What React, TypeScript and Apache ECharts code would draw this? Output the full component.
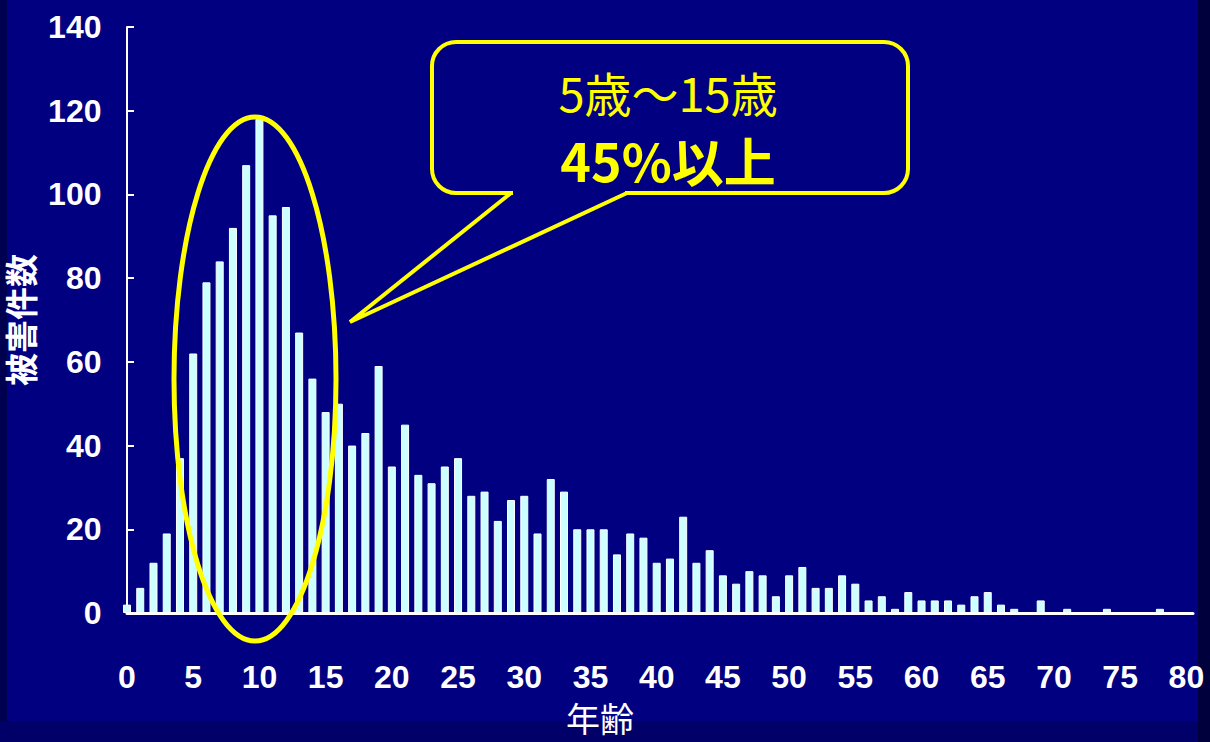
import React, { useEffect, useRef } from "react";
import * as echarts from "echarts";

const ages = [
  0, 1, 2, 3, 4, 5, 6, 7, 8, 9, 10, 11, 12, 13, 14, 15, 16, 17, 18, 19,
  20, 21, 22, 23, 24, 25, 26, 27, 28, 29, 30, 31, 32, 33, 34, 35, 36, 37, 38, 39,
  40, 41, 42, 43, 44, 45, 46, 47, 48, 49, 50, 51, 52, 53, 54, 55, 56, 57, 58, 59,
  60, 61, 62, 63, 64, 65, 66, 67, 68, 69, 70, 71, 72, 73, 74, 75, 76, 77, 78, 79,
];
const counts = [
  2, 6, 12, 19, 37, 62, 79, 84, 92, 107, 118, 95, 97, 67, 56, 48, 50, 40, 43, 59,
  35, 45, 33, 31, 35, 37, 28, 29, 22, 27, 28, 19, 32, 29, 20, 20, 20, 14, 19, 18,
  12, 13, 23, 12, 15, 9, 7, 10, 9, 4, 9, 11, 6, 6, 9, 7, 3, 4, 1, 5,
  3, 3, 3, 2, 4, 5, 2, 1, 0, 3, 0, 1, 0, 0, 1, 0, 0, 0, 1, 0,
];
const yAxisName = "被害件数";
const xAxisName = "年齢";
const calloutLine1 = "5歳～15歳";
const calloutLine2 = "45%以上";

const NUM_FONT = "'Liberation Sans', Arial, sans-serif";
const CJK_FONT = "'Noto Sans CJK JP', 'Noto Sans', sans-serif";
const YELLOW = "#ffff00";
const NAVY = "#000080";

export default function App() {
  const ref = useRef<HTMLDivElement>(null);
  useEffect(() => {
    if (!ref.current) return;
    const chart = echarts.init(ref.current, null, { renderer: "svg" });
    const data = ages.map((a, i) => [a, counts[i]]);
    chart.setOption({
      animation: false,
      backgroundColor: NAVY,
      grid: {
        left: 127,
        right: 17,
        top: 27,
        bottom: 129,
        containLabel: false,
        outerBoundsMode: "none",
      },
      xAxis: {
        type: "value",
        min: 0,
        max: 80.5,
        interval: 5,
        splitLine: { show: false },
        axisTick: { show: false },
        axisLine: { show: true, lineStyle: { color: "#ffffff", width: 3 } },
        axisLabel: {
          color: "#ffffff",
          fontFamily: NUM_FONT,
          fontWeight: "bold",
          fontSize: 32,
          lineHeight: 30,
          margin: 49,
          showMaxLabel: false,
          formatter: (v: number) => (v % 5 === 0 ? String(v) : ""),
        },
        name: xAxisName,
        nameLocation: "middle",
        nameGap: 87,
        nameTextStyle: {
          color: "#ffffff",
          fontFamily: CJK_FONT,
          fontSize: 34,
          lineHeight: 34,
          padding: [0, 120, 0, 0],
        },
      },
      yAxis: {
        type: "value",
        min: 0,
        max: 140,
        interval: 20,
        offset: 3.5,
        splitLine: { show: false },
        axisLine: { show: true, lineStyle: { color: "#ffffff", width: 2 } },
        axisTick: { show: true, inside: true, length: 7, lineStyle: { color: "#ffffff", width: 2 } },
        axisLabel: {
          color: "#ffffff",
          fontFamily: NUM_FONT,
          fontWeight: "bold",
          fontSize: 32,
          margin: 22,
        },
        name: yAxisName,
        nameLocation: "middle",
        nameGap: 79,
        nameRotate: 90,
        nameTextStyle: {
          color: "#ffffff",
          fontFamily: CJK_FONT,
          fontWeight: "bold",
          fontSize: 33,
          lineHeight: 34,
        },
      },
      series: [
        {
          type: "bar",
          data,
          barWidth: 8,
          itemStyle: { color: "#ccffff", borderColor: "#ffffff", borderWidth: 1 },
          z: 2,
        },
      ],
      graphic: [
        { type: "rect", shape: { x: 0, y: 0, width: 7, height: 742 }, style: { fill: "#000050" }, z: -1, silent: true },
        { type: "rect", shape: { x: 0, y: 721, width: 1210, height: 21 }, style: { fill: "#000068" }, z: -1, silent: true },
        { type: "rect", shape: { x: 1198, y: 0, width: 12, height: 742 }, style: { fill: "#00003c" }, z: -1, silent: true },
        {
          type: "ellipse",
          shape: { cx: 255, cy: 379, rx: 81, ry: 262 },
          style: { fill: "none", stroke: YELLOW, lineWidth: 5 },
          z: 10,
        },
        {
          type: "rect",
          shape: { x: 432, y: 42, width: 476, height: 151, r: 24 },
          style: { fill: NAVY, stroke: YELLOW, lineWidth: 4 },
          z: 10,
        },
        {
          type: "line",
          shape: { x1: 513, y1: 193, x2: 625, y2: 193 },
          style: { stroke: NAVY, lineWidth: 6 },
          z: 11,
        },
        {
          type: "polyline",
          shape: { points: [[511, 193], [350, 322], [627, 193]] },
          style: { fill: "none", stroke: YELLOW, lineWidth: 4, lineJoin: "miter" },
          z: 12,
        },
        {
          type: "text",
          x: 668,
          y: 91,
          style: {
            text: calloutLine1,
            fill: YELLOW,
            font: `normal 47px ${CJK_FONT}`,
            align: "center",
            verticalAlign: "middle",
          },
          z: 13,
        },
        {
          type: "text",
          x: 668,
          y: 159,
          style: {
            text: calloutLine2,
            fill: YELLOW,
            font: `bold 52px ${CJK_FONT}`,
            align: "center",
            verticalAlign: "middle",
          },
          z: 13,
        },
      ],
    });
    return () => chart.dispose();
  }, []);
  return (
    <div
      ref={ref}
      style={{ position: "fixed", left: 0, top: 0, width: 1210, height: 742 }}
    />
  );
}
